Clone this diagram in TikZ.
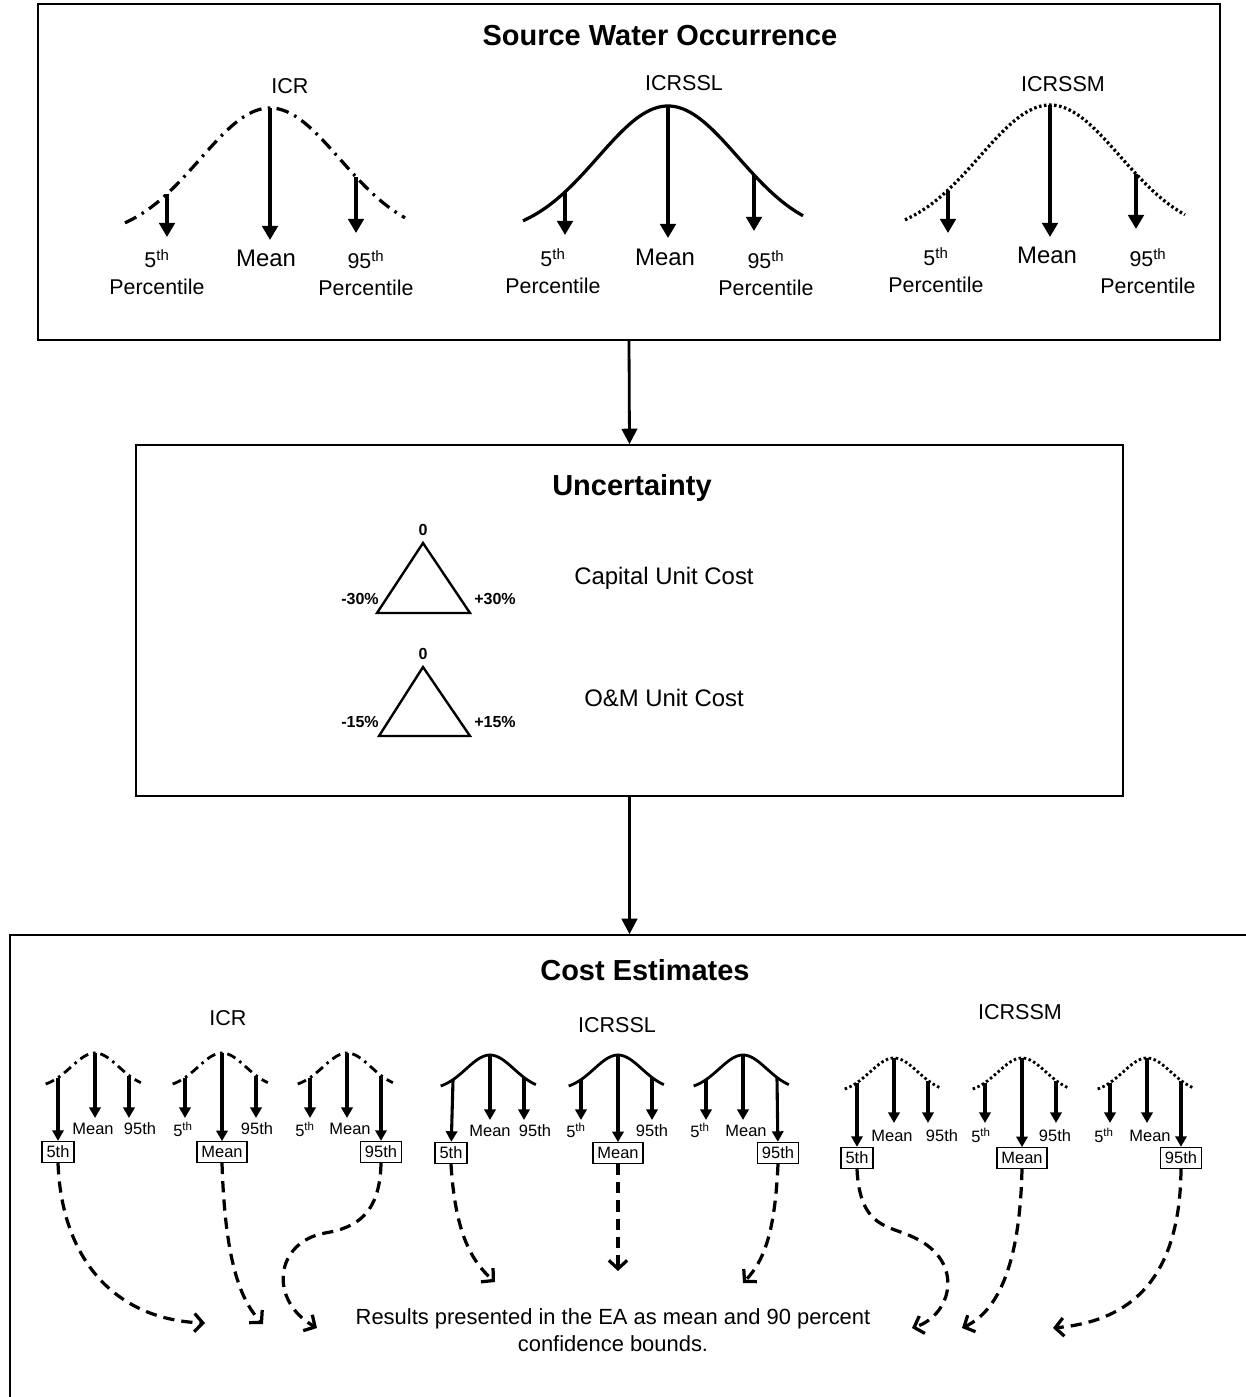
\documentclass[tikz,border=0pt]{standalone}
\usepackage{fontspec}
\setmainfont{Liberation Sans}
\usetikzlibrary{positioning, arrows.meta}
\tikzset{
    panel/.style={draw, line width=1.1pt, inner sep=0pt},
    flow/.style={-{Triangle[width=11pt,length=11pt]}, line width=2pt},
    pick/.style={-{Triangle[width=11pt,length=10pt]}, line width=2.4pt},
    minipick/.style={-{Triangle[width=8pt,length=7.5pt]}, line width=2.2pt},
    result/.style={dash pattern=on 8pt off 5pt, line width=2.3pt, -{Straight Barb[length=6pt,width=13pt,line width=2.3pt]}},
    bigcurve/.style={line width=2.3pt},
    minicurve/.style={line width=2pt},
    dashdotline/.style={dash pattern=on 9pt off 4.5pt on 1.8pt off 4.5pt},
    minidashdot/.style={dash pattern=on 6.5pt off 3.5pt on 1.8pt off 3.5pt},
    dotline/.style={dash pattern=on 1.8pt off 1.8pt},
    heading/.style={font=\fontsize{20.6}{24}\selectfont\bfseries},
    setname/.style={font=\fontsize{15.3}{18}\selectfont},
    bigmean/.style={font=\fontsize{17}{20}\selectfont},
    pct/.style={font=\fontsize{15.2}{19}\selectfont, align=center},
    costname/.style={font=\fontsize{17}{20}\selectfont},
    tri/.style={line width=1.7pt, line join=miter},
    trilabel/.style={font=\fontsize{11.4}{13}\selectfont\bfseries, inner sep=1pt},
    minilabel/.style={font=\fontsize{11.7}{13}\selectfont, inner sep=1pt},
    pickbox/.style={draw, line width=0.9pt, font=\fontsize{11.7}{13}\selectfont, inner sep=3.2pt}
}
% centre x, peak y, x scale, y scale, line style
\newcommand{\bellcurve}[5]{%
    \draw[#5] plot[domain=-145:135, samples=60, smooth] ({#1+#3*\x}, {#2+#4*130*(1-exp(-0.5*(\x/70)^2))});}

\begin{document}
\begin{tikzpicture}[x=0.025cm, y=-0.025cm]
\useasboundingbox (0,0) rectangle (1246,1397);
\clip (0,0) rectangle (1246,1397);

% Source water occurrence
\node[panel, minimum width=29.55cm, minimum height=8.4cm] (occ) at (629,172) {};
\node[heading] (occtitle) at (660,36) {Source Water Occurrence};

% ICR
\node[setname] (icrname) at (290,86) {ICR};
\bellcurve{270}{108}{1}{1}{bigcurve, dashdotline}
\draw[pick] (167,194) -- (167,237);
\draw[pick] (270,108) -- (270,240);
\draw[pick] (356,177) -- (356,233);
\node[pct] at (157,272) {5\textsuperscript{th}\\Percentile};
\node[bigmean] at (266,258) {Mean};
\node[pct] at (366,273) {95\textsuperscript{th}\\Percentile};

% ICRSSL
\node[setname] (sslname) at (684,83) {ICRSSL};
\bellcurve{668}{106}{1}{1}{bigcurve}
\draw[pick] (565,192) -- (565,235);
\draw[pick] (668,106) -- (668,238);
\draw[pick] (754,175) -- (754,231);
\node[pct] at (553,271) {5\textsuperscript{th}\\Percentile};
\node[bigmean] at (665,257) {Mean};
\node[pct] at (766,273) {95\textsuperscript{th}\\Percentile};

% ICRSSM
\node[setname] (ssmname) at (1063,84) {ICRSSM};
\bellcurve{1050}{105}{1}{1}{bigcurve, dotline}
\draw[pick] (948,191) -- (948,233);
\draw[pick] (1050,105) -- (1050,237);
\draw[pick] (1136,174) -- (1136,229);
\node[pct] at (936,270) {5\textsuperscript{th}\\Percentile};
\node[bigmean] at (1047,255) {Mean};
\node[pct] at (1148,271) {95\textsuperscript{th}\\Percentile};

% Uncertainty
\node[panel, minimum width=24.675cm, minimum height=8.775cm] (unc) at (629.5,620.5) {};
\node[heading] (unctitle) at (632,488) {Uncertainty};
\draw[flow] (occ.south) -- (unc.north);

\coordinate (capTop) at (423,543);
\coordinate (capLeft) at (377,613);
\coordinate (capRight) at (470,613);
\draw[tri] (capTop) -- (capRight) -- (capLeft) -- cycle;
\node[trilabel] at (423,530) {0};
\node[trilabel] at (360,599) {-30\%};
\node[trilabel] at (495,599) {+30\%};
\node[costname] (capital) at (664,578) {Capital Unit Cost};

\coordinate (omTop) at (423,667);
\coordinate (omLeft) at (379,736);
\coordinate (omRight) at (470,736);
\draw[tri] (omTop) -- (omRight) -- (omLeft) -- cycle;
\node[trilabel] at (423,654) {0};
\node[trilabel] at (360,722) {-15\%};
\node[trilabel] at (495,722) {+15\%};
\node[costname] (om) at (664,698) {O\&M Unit Cost};

% Cost estimates
\node[panel, minimum width=31.5cm, minimum height=12.25cm] (cost) at (640,1180) {};
\node[heading] (costtitle) at (645,970) {Cost Estimates};
\draw[flow] (unc.south) -- (unc.south |- cost.north);

% ICR runs
\node[setname] at (228,1018) {ICR};
\bellcurve{95}{1053}{0.34}{0.27}{minicurve, minidashdot}
\node[pickbox] (icrlow) at (58,1152) {5th};
\draw[minipick] (58,1078) -- (icrlow);
\draw[minipick] (95,1053) -- (95,1118);
\draw[minipick] (129,1076) -- (129,1118);
\node[minilabel] at (93,1129) {Mean};
\node[minilabel] at (140,1129) {95th};

\bellcurve{222}{1053}{0.34}{0.27}{minicurve, minidashdot}
\node[pickbox] (icrmid) at (222,1152) {Mean};
\draw[minipick] (185,1078) -- (185,1118);
\draw[minipick] (222,1053) -- (icrmid);
\draw[minipick] (256,1076) -- (256,1118);
\node[minilabel] at (183,1129) {5\textsuperscript{th}};
\node[minilabel] at (257,1129) {95th};

\bellcurve{347}{1053}{0.34}{0.27}{minicurve, minidashdot}
\node[pickbox] (icrhigh) at (381,1152) {95th};
\draw[minipick] (310,1078) -- (310,1118);
\draw[minipick] (347,1053) -- (347,1118);
\draw[minipick] (381,1076) -- (icrhigh);
\node[minilabel] at (305,1129) {5\textsuperscript{th}};
\node[minilabel] at (350,1129) {Mean};

% ICRSSL runs
\node[setname] at (617,1025) {ICRSSL};
\bellcurve{490}{1055}{0.34}{0.27}{minicurve}
\node[pickbox] (ssllow) at (451,1153) {5th};
\draw[minipick] (453,1080) -- (ssllow);
\draw[minipick] (490,1055) -- (490,1120);
\draw[minipick] (524,1078) -- (524,1120);
\node[minilabel] at (490,1131) {Mean};
\node[minilabel] at (535,1131) {95th};

\bellcurve{618}{1055}{0.34}{0.27}{minicurve}
\node[pickbox] (sslmid) at (618,1153) {Mean};
\draw[minipick] (581,1080) -- (581,1120);
\draw[minipick] (618,1055) -- (sslmid);
\draw[minipick] (652,1078) -- (652,1120);
\node[minilabel] at (576,1130) {5\textsuperscript{th}};
\node[minilabel] at (652,1131) {95th};

\bellcurve{743}{1055}{0.34}{0.27}{minicurve}
\node[pickbox] (sslhigh) at (778,1153) {95th};
\draw[minipick] (706,1080) -- (706,1120);
\draw[minipick] (743,1055) -- (743,1120);
\draw[minipick] (777,1078) -- (sslhigh);
\node[minilabel] at (700,1130) {5\textsuperscript{th}};
\node[minilabel] at (746,1131) {Mean};

% ICRSSM runs
\node[setname] at (1020,1012) {ICRSSM};
\bellcurve{894}{1058}{0.34}{0.27}{minicurve, dotline}
\node[pickbox] (ssmlow) at (857,1158) {5th};
\draw[minipick] (857,1083) -- (ssmlow);
\draw[minipick] (894,1058) -- (894,1123);
\draw[minipick] (928,1081) -- (928,1123);
\node[minilabel] at (892,1136) {Mean};
\node[minilabel] at (942,1136) {95th};

\bellcurve{1022}{1058}{0.34}{0.27}{minicurve, dotline}
\node[pickbox] (ssmmid) at (1022,1158) {Mean};
\draw[minipick] (985,1083) -- (985,1123);
\draw[minipick] (1022,1058) -- (ssmmid);
\draw[minipick] (1056,1081) -- (1056,1123);
\node[minilabel] at (981,1135) {5\textsuperscript{th}};
\node[minilabel] at (1055,1136) {95th};

\bellcurve{1147}{1058}{0.34}{0.27}{minicurve, dotline}
\node[pickbox] (ssmhigh) at (1181,1158) {95th};
\draw[minipick] (1110,1083) -- (1110,1123);
\draw[minipick] (1147,1058) -- (1147,1123);
\draw[minipick] (1181,1081) -- (ssmhigh);
\node[minilabel] at (1104,1135) {5\textsuperscript{th}};
\node[minilabel] at (1150,1136) {Mean};

% Results
\node[font=\fontsize{15.6}{19}\selectfont, align=center] (results) at (613,1330)
    {Results presented in the EA as mean and 90 percent\\confidence bounds.};
\draw[result] (icrlow.south) .. controls (62,1265) and (120,1320) .. (205,1323);
\draw[result] (icrmid.south) .. controls (225,1260) and (240,1300) .. (263,1324);
\draw[result] (icrhigh.south) .. controls (380,1215) and (355,1228) .. (325,1233) .. controls (275,1242) and (268,1300) .. (317,1328);
\draw[result] (ssllow.south) .. controls (455,1230) and (470,1260) .. (495,1282);
\draw[result] (sslmid.south) -- (618,1271);
\draw[result] (sslhigh.south) .. controls (775,1230) and (765,1260) .. (743,1283);
\draw[result] (ssmlow.south) .. controls (860,1230) and (890,1225) .. (915,1238) .. controls (965,1262) and (952,1315) .. (912,1328);
\draw[result] (ssmmid.south) .. controls (1020,1260) and (1000,1310) .. (962,1328);
\draw[result] (ssmhigh.south) .. controls (1180,1290) and (1120,1322) .. (1053,1328);

\end{tikzpicture}
\end{document}
